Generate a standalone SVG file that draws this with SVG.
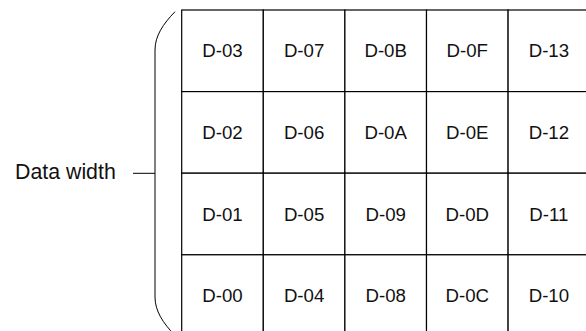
<svg xmlns="http://www.w3.org/2000/svg" width="586" height="331" viewBox="0 0 586 331">
<style>
.cell rect{fill:#fff;stroke:#000;stroke-width:1.2}
.cell text{font-family:"Liberation Sans",Arial,sans-serif;font-size:18.67px;fill:#111;text-anchor:middle;dominant-baseline:central}
.lbl{font-family:"Liberation Sans",Arial,sans-serif;font-size:21.33px;fill:#111}
.brace{fill:none;stroke:#000;stroke-width:1}
</style>
<rect width="586" height="331" fill="#fff"/>
<g id="label"><text class="lbl" x="15" y="178.5">Data width</text></g>
<g id="connectors">
<path class="brace" d="M175,11.7 C163,24 155,36 155,50 L155,297 C155,311 163,323 175,335.5"/>
<line class="brace" x1="133" y1="173.3" x2="155" y2="173.3"/>
</g>
<g id="n-03" class="cell"><rect x="181.7" y="10" width="81.6" height="81.6"/><text x="222.5" y="50.8">D-03</text></g>
<g id="n-07" class="cell"><rect x="263.3" y="10" width="81.6" height="81.6"/><text x="304.1" y="50.8">D-07</text></g>
<g id="n-0B" class="cell"><rect x="344.9" y="10" width="81.6" height="81.6"/><text x="385.7" y="50.8">D-0B</text></g>
<g id="n-0F" class="cell"><rect x="426.5" y="10" width="81.6" height="81.6"/><text x="467.3" y="50.8">D-0F</text></g>
<g id="n-13" class="cell"><rect x="508.1" y="10" width="81.6" height="81.6"/><text x="548.9" y="50.8">D-13</text></g>
<g id="n-02" class="cell"><rect x="181.7" y="91.6" width="81.6" height="81.6"/><text x="222.5" y="132.4">D-02</text></g>
<g id="n-06" class="cell"><rect x="263.3" y="91.6" width="81.6" height="81.6"/><text x="304.1" y="132.4">D-06</text></g>
<g id="n-0A" class="cell"><rect x="344.9" y="91.6" width="81.6" height="81.6"/><text x="385.7" y="132.4">D-0A</text></g>
<g id="n-0E" class="cell"><rect x="426.5" y="91.6" width="81.6" height="81.6"/><text x="467.3" y="132.4">D-0E</text></g>
<g id="n-12" class="cell"><rect x="508.1" y="91.6" width="81.6" height="81.6"/><text x="548.9" y="132.4">D-12</text></g>
<g id="n-01" class="cell"><rect x="181.7" y="173.2" width="81.6" height="81.6"/><text x="222.5" y="214">D-01</text></g>
<g id="n-05" class="cell"><rect x="263.3" y="173.2" width="81.6" height="81.6"/><text x="304.1" y="214">D-05</text></g>
<g id="n-09" class="cell"><rect x="344.9" y="173.2" width="81.6" height="81.6"/><text x="385.7" y="214">D-09</text></g>
<g id="n-0D" class="cell"><rect x="426.5" y="173.2" width="81.6" height="81.6"/><text x="467.3" y="214">D-0D</text></g>
<g id="n-11" class="cell"><rect x="508.1" y="173.2" width="81.6" height="81.6"/><text x="548.9" y="214">D-11</text></g>
<g id="n-00" class="cell"><rect x="181.7" y="254.8" width="81.6" height="81.6"/><text x="222.5" y="295.6">D-00</text></g>
<g id="n-04" class="cell"><rect x="263.3" y="254.8" width="81.6" height="81.6"/><text x="304.1" y="295.6">D-04</text></g>
<g id="n-08" class="cell"><rect x="344.9" y="254.8" width="81.6" height="81.6"/><text x="385.7" y="295.6">D-08</text></g>
<g id="n-0C" class="cell"><rect x="426.5" y="254.8" width="81.6" height="81.6"/><text x="467.3" y="295.6">D-0C</text></g>
<g id="n-10" class="cell"><rect x="508.1" y="254.8" width="81.6" height="81.6"/><text x="548.9" y="295.6">D-10</text></g>
</svg>
